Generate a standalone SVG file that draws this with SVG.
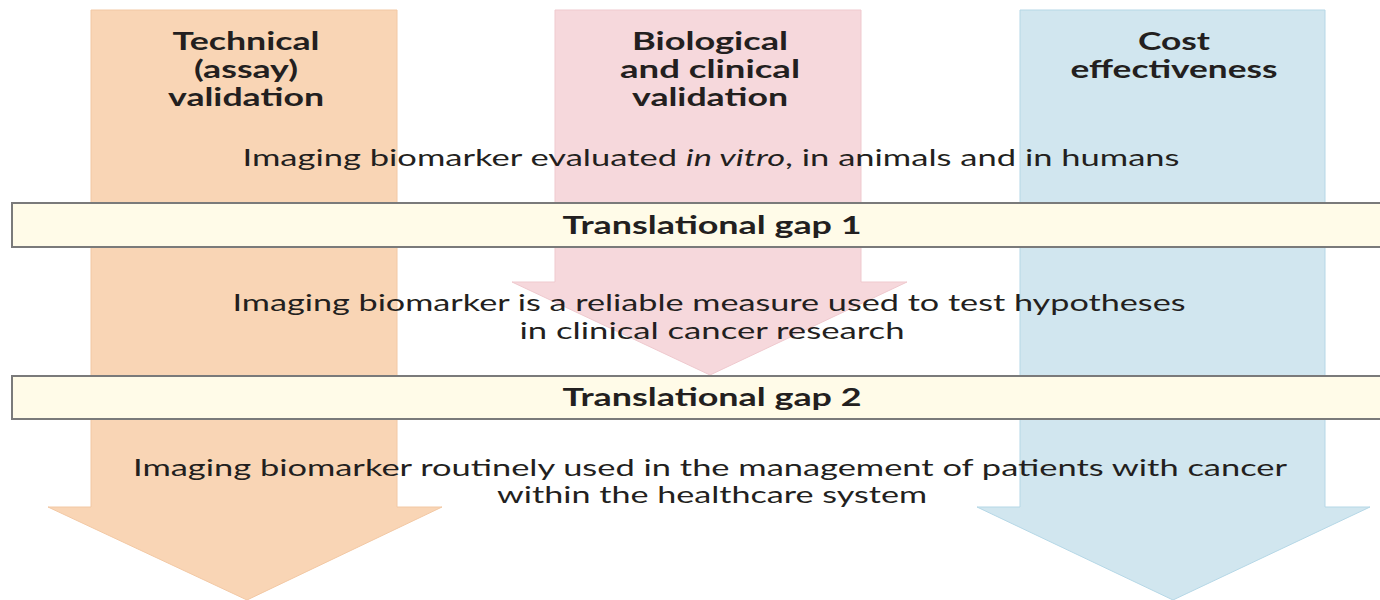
<svg xmlns="http://www.w3.org/2000/svg" width="1380" height="600" viewBox="0 0 1380 600">
<style>
.title{font-family:"Lato","Open Sans","DejaVu Sans",sans-serif;font-weight:bold;font-size:24px;fill:#231f20;text-anchor:middle}
.body{font-family:"Lato","Open Sans","DejaVu Sans",sans-serif;font-size:24px;fill:#231f20;text-anchor:middle}
.gap{font-family:"Lato","Open Sans","DejaVu Sans",sans-serif;font-weight:bold;font-size:25px;fill:#231f20;text-anchor:middle}
.band{fill:#fffbe8;stroke:#7a7a7a;stroke-width:2}
.orange{fill:#f9d5b5;stroke:#f2c8a4;stroke-width:1}
.pink{fill:#f6d8dc;stroke:#efc9ce;stroke-width:1}
.blue{fill:#d1e6ef;stroke:#b5d7e6;stroke-width:1}
</style>
<rect width="1380" height="600" fill="#ffffff"/>
<g id="arrow-technical">
<polygon class="orange" points="91,10 397,10 397,507 442,507 247,600 48,507 91,507"/>
<text class="title" x="246" y="50" textLength="147" lengthAdjust="spacingAndGlyphs">Technical</text>
<text class="title" x="246" y="78" textLength="104" lengthAdjust="spacingAndGlyphs">(assay)</text>
<text class="title" x="246" y="106" textLength="156" lengthAdjust="spacingAndGlyphs">validation</text>
</g>
<g id="arrow-biological">
<polygon class="pink" points="555,10 861,10 861,282 907,282 710,375 512,282 555,282"/>
<text class="title" x="710" y="50" textLength="156" lengthAdjust="spacingAndGlyphs">Biological</text>
<text class="title" x="710" y="78" textLength="180" lengthAdjust="spacingAndGlyphs">and clinical</text>
<text class="title" x="710" y="106" textLength="156" lengthAdjust="spacingAndGlyphs">validation</text>
</g>
<g id="arrow-cost">
<polygon class="blue" points="1020,10 1325,10 1325,507 1370,507 1173,600 977,507 1020,507"/>
<text class="title" x="1174" y="50" textLength="72" lengthAdjust="spacingAndGlyphs">Cost</text>
<text class="title" x="1174" y="78" textLength="207" lengthAdjust="spacingAndGlyphs">effectiveness</text>
</g>
<g id="connectors"></g>
<g id="stage1">
<text class="body" x="711" y="166" textLength="937" lengthAdjust="spacingAndGlyphs">Imaging biomarker evaluated <tspan font-style="italic">in vitro</tspan>, in animals and in humans</text>
</g>
<g id="gap1">
<rect class="band" x="12" y="203" width="1380" height="44"/>
<text class="gap" x="712" y="234" textLength="299" lengthAdjust="spacingAndGlyphs">Translational gap 1</text>
</g>
<g id="stage2">
<text class="body" x="709" y="311" textLength="953" lengthAdjust="spacingAndGlyphs">Imaging biomarker is a reliable measure used to test hypotheses</text>
<text class="body" x="712" y="339" textLength="385" lengthAdjust="spacingAndGlyphs">in clinical cancer research</text>
</g>
<g id="gap2">
<rect class="band" x="12" y="376" width="1380" height="43"/>
<text class="gap" x="712" y="406" textLength="299" lengthAdjust="spacingAndGlyphs">Translational gap 2</text>
</g>
<g id="stage3">
<text class="body" x="710" y="476" textLength="1154" lengthAdjust="spacingAndGlyphs">Imaging biomarker routinely used in the management of patients with cancer</text>
<text class="body" x="712" y="503" textLength="430" lengthAdjust="spacingAndGlyphs">within the healthcare system</text>
</g>
</svg>
